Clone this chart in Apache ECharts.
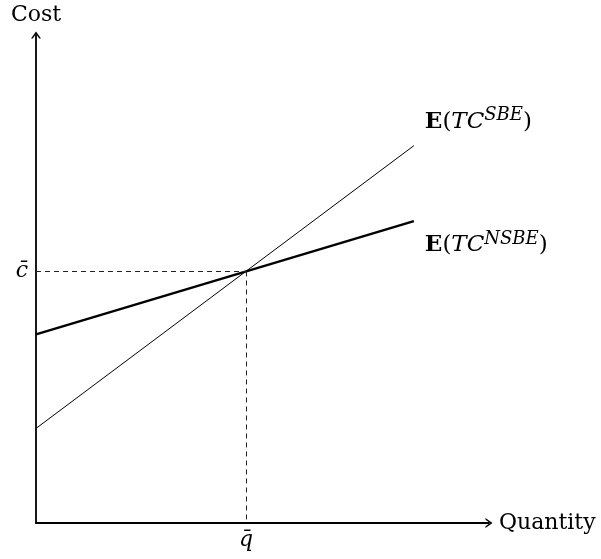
<!DOCTYPE html>
<html>
<head>
    <meta charset="UTF-8">
    <title>Cost vs Quantity</title>
    <script src="https://cdn.jsdelivr.net/npm/echarts@6/dist/echarts.min.js"></script>
    <style>
        html, body { margin: 0; padding: 0; background: #fff; }
    </style>
</head>
<body>
<div id="main" style="width: 601px;height:559px;"></div>
<script type="text/javascript">
    // line end points (quantity, cost)
    var qValues = [0, 9];
    var sbeCost = [1.88, 7.5];
    var nsbeCost = [3.75, 6.0];
    // reference point
    var qBar = 5;
    var cBar = 5;
    var qLabel = 'q\u0304';
    var cLabel = 'c\u0304';

    var font = 'DejaVu Serif';

    function pairs(xs, ys) {
        return xs.map(function (x, i) { return [x, ys[i]]; });
    }

    var richLabel = {
        b: { fontFamily: font, fontSize: 23, fontWeight: 'bold', color: '#000', lineHeight: 30 },
        n: { fontFamily: font, fontSize: 23, color: '#000', lineHeight: 30 },
        i: { fontFamily: font, fontSize: 23, fontStyle: 'italic', color: '#000', lineHeight: 30 },
        s: { fontFamily: font, fontSize: 18, fontStyle: 'italic', color: '#000', verticalAlign: 'top', lineHeight: 18 }
    };

    // open chevron arrow head
    var arrow = 'path://M0,7 L5,0 L10,7 L8.3,7 L5,2.4 L1.7,7 Z';

    var myChart = echarts.init(document.getElementById('main'));

    var option = {
        animation: false,
        grid: { left: 36, right: 112, top: 35, bottom: 36 },
        xAxis: {
            type: 'value',
            min: 0,
            max: 10.79,
            name: 'Quantity',
            nameLocation: 'end',
            nameGap: 10,
            nameTextStyle: { fontFamily: font, fontSize: 22, color: '#000' },
            axisLine: { show: true, symbol: ['none', arrow], symbolSize: [11, 7], symbolOffset: [0, 0],
                lineStyle: { color: '#000', width: 1.8 } },
            axisTick: { show: false },
            splitLine: { show: false },
            axisLabel: {
                customValues: [qBar],
                formatter: function () { return qLabel; },
                fontFamily: font, fontSize: 22, fontStyle: 'italic', color: '#000', margin: 6
            }
        },
        yAxis: {
            type: 'value',
            min: 0,
            max: 9.7,
            name: 'Cost',
            nameLocation: 'end',
            nameGap: 9,
            nameTextStyle: { fontFamily: font, fontSize: 22, color: '#000', align: 'center' },
            axisLine: { show: true, symbol: ['none', arrow], symbolSize: [11, 7], symbolOffset: [0, 0],
                lineStyle: { color: '#000', width: 1.8 } },
            axisTick: { show: false },
            splitLine: { show: false },
            axisLabel: {
                customValues: [cBar],
                formatter: function () { return cLabel; },
                fontFamily: font, fontSize: 22, fontStyle: 'italic', color: '#000', margin: 8
            }
        },
        series: [
            {
                name: 'SBE',
                type: 'line',
                data: pairs(qValues, sbeCost),
                showSymbol: false,
                lineStyle: { color: '#000', width: 1 },
                endLabel: {
                    show: true,
                    offset: [3, -24],
                    formatter: '{b|E}{n|(}{i|TC}{s|SBE}{n|)}',
                    rich: richLabel
                },
                markLine: {
                    silent: true,
                    symbol: 'none',
                    label: { show: false },
                    lineStyle: { color: '#222', width: 1, type: [5, 4] },
                    data: [
                        [{ coord: [0, cBar] }, { coord: [qBar, cBar] }],
                        [{ coord: [qBar, cBar] }, { coord: [qBar, 0] }]
                    ]
                }
            },
            {
                name: 'NSBE',
                type: 'line',
                data: pairs(qValues, nsbeCost),
                showSymbol: false,
                lineStyle: { color: '#000', width: 2.4 },
                endLabel: {
                    show: true,
                    offset: [3, 24],
                    formatter: '{b|E}{n|(}{i|TC}{s|NSBE}{n|)}',
                    rich: richLabel
                }
            }
        ]
    };

    myChart.setOption(option);
</script>
</body>
</html>
